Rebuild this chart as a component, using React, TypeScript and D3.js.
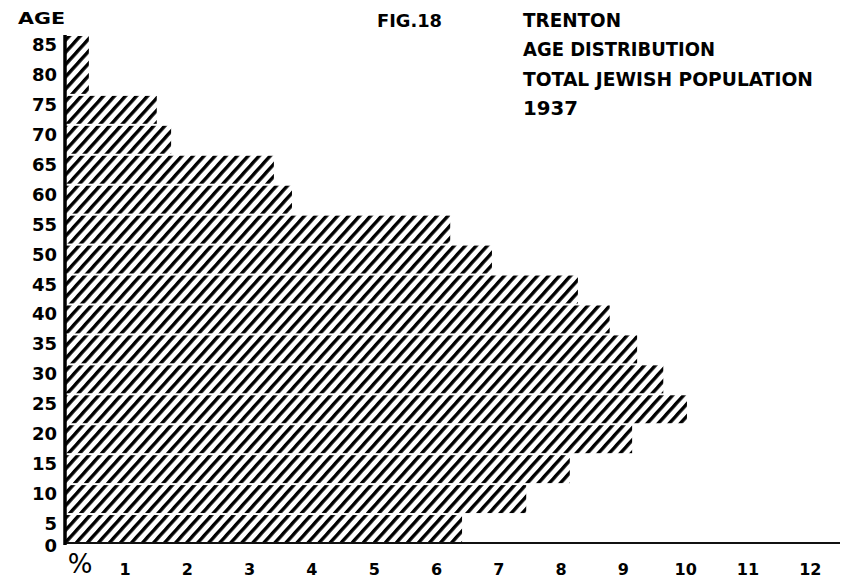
import React from "react";
import * as d3 from "d3";

// Age group start (years) and width (years)
const ageStarts = [0, 5, 10, 15, 20, 25, 30, 35, 40, 45, 50, 55, 60, 65, 70, 75];
const ageEnds = [5, 10, 15, 20, 25, 30, 35, 40, 45, 50, 55, 60, 65, 70, 75, 85];
// Percent of total Jewish population
const percents = [6.41, 7.44, 8.14, 9.14, 10.02, 9.64, 9.22, 8.78, 8.27, 6.89, 6.22, 3.68, 3.39, 1.74, 1.51, 0.42];
const ageTicks = [0, 5, 10, 15, 20, 25, 30, 35, 40, 45, 50, 55, 60, 65, 70, 75, 80, 85];
const pctTicks = [1, 2, 3, 4, 5, 6, 7, 8, 9, 10, 11, 12];
const titleLines = ["TRENTON", "AGE DISTRIBUTION", "TOTAL JEWISH POPULATION", "1937"];

const W = 841;
const H = 580;

export default function App() {
  const x = d3.scaleLinear().domain([0, 12]).range([62.7, 62.7 + 62.3 * 12]);
  const y = d3.scaleLinear().domain([0, 85]).range([544, 35]);
  const axisX = 65;
  const font = "'DejaVu Sans', sans-serif";

  return (
    <svg width={W} height={H} style={{ position: "absolute", left: 0, top: 0, background: "#fff" }}>
      <defs>
        <pattern id="hatch" patternUnits="userSpaceOnUse" width={8.2} height={8.2} patternTransform="rotate(42)">
          <rect x={0} y={0} width={3.4} height={8.2} fill="#000" />
        </pattern>
      </defs>
      <rect width={W} height={H} fill="#fff" />

      {/* bars */}
      {percents.map((p, i) => (
        <rect
          key={i}
          x={axisX + 1}
          y={y(ageEnds[i]) + 1}
          width={Math.max(0, x(p) - axisX - 1)}
          height={y(ageStarts[i]) - y(ageEnds[i]) - 2}
          fill="url(#hatch)"
        />
      ))}

      {/* x axis line */}
      <line x1={axisX} x2={840} y1={543} y2={543} stroke="#111" strokeWidth={1.8} />
      {/* y axis line */}
      <line x1={axisX} x2={axisX} y1={y(85)} y2={545} stroke="#000" strokeWidth={3.5} />

      {/* y tick labels */}
      {ageTicks.map((a) => (
        <text
          key={a}
          x={57}
          y={y(a) + (a === 0 ? 8 : 16)}
          textAnchor="end"
          fontFamily={font}
          fontWeight="bold"
          fontSize={18}
          fill="#000"
        >
          {a}
        </text>
      ))}

      {/* x tick labels */}
      {pctTicks.map((t) => (
        <text
          key={t}
          x={x(t)}
          y={575}
          textAnchor="middle"
          fontFamily={font}
          fontWeight="bold"
          fontSize={16}
          fill="#000"
        >
          {t}
        </text>
      ))}
      <text x={80} y={573} textAnchor="middle" fontFamily={font} fontSize={26} fill="#000">
        %
      </text>

      {/* labels */}
      <text x={18} y={24} fontFamily={font} fontWeight="bold" fontSize={16} textLength={47} lengthAdjust="spacingAndGlyphs" fill="#000">
        AGE
      </text>
      <text x={377} y={27} fontFamily={font} fontWeight="bold" fontSize={18} textLength={65} lengthAdjust="spacingAndGlyphs" fill="#000">
        FIG.18
      </text>
      {titleLines.map((t, i) => (
        <text
          key={t}
          x={523}
          y={27 + i * 29.4}
          fontFamily={font}
          fontWeight="bold"
          fontSize={19}
          textLength={[98, 192, 290, 55][i]}
          lengthAdjust="spacingAndGlyphs"
          fill="#000"
        >
          {t}
        </text>
      ))}
    </svg>
  );
}
